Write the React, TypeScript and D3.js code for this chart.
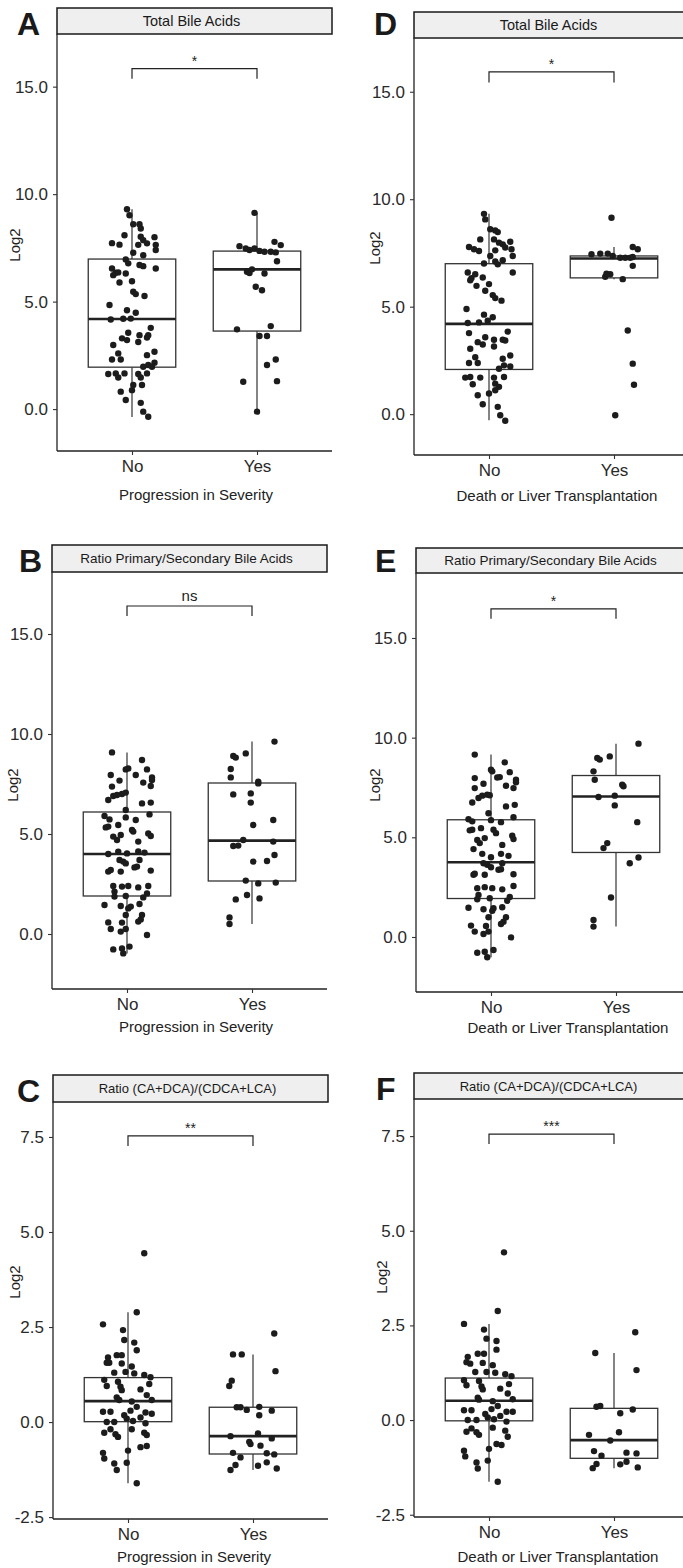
import React, { useEffect, useRef } from "react";
import { axisBottom, axisLeft, scaleLinear, select } from "d3";

const FONT = "'Liberation Sans', Arial, Helvetica, sans-serif";

// categories / labels
const groups = ["No", "Yes"];
const panelLetters = ["A", "D", "B", "E", "C", "F"];
const stripTitles = [
  "Total Bile Acids",
  "Total Bile Acids",
  "Ratio Primary/Secondary Bile Acids",
  "Ratio Primary/Secondary Bile Acids",
  "Ratio (CA+DCA)/(CDCA+LCA)",
  "Ratio (CA+DCA)/(CDCA+LCA)"
];
const xTitles = [
  "Progression in Severity",
  "Death or Liver Transplantation",
  "Progression in Severity",
  "Death or Liver Transplantation",
  "Progression in Severity",
  "Death or Liver Transplantation"
];
const sigLabels = ["*", "*", "ns", "*", "**", "***"];
// [bracket level, tip level]
const brackets = [
  [15.84, 15.37],
  [15.92, 15.43],
  [16.4, 15.9],
  [16.46, 15.96],
  [7.53, 7.26],
  [7.55, 7.29]
];
const ticksBA = [0, 5, 10, 15];
const ticksRatio = [-2.5, 0, 2.5, 5, 7.5];

// box stats: [lower whisker, q1, median, q3, upper whisker]
const aNoBox = [-0.37, 1.95, 4.19, 6.98, 9.3];
const aYesBox = [-0.12, 3.63, 6.5, 7.35, 9.13];
const dNoBox = [-0.28, 2.08, 4.2, 7.0, 9.32];
const dYesBox = [6.28, 6.34, 7.24, 7.36, 7.78];
const bNoBox = [-0.97, 1.9, 4.0, 6.1, 9.08];
const bYesBox = [0.5, 2.65, 4.67, 7.55, 9.62];
const eNoBox = [-1.02, 1.93, 3.75, 5.88, 9.15];
const eYesBox = [0.52, 4.24, 7.05, 8.1, 9.7];
const cNoBox = [-1.61, 0.01, 0.55, 1.17, 2.89];
const cYesBox = [-1.26, -0.84, -0.37, 0.39, 1.78];
const fNoBox = [-1.63, -0.02, 0.51, 1.11, 2.54];
const fYesBox = [-1.27, -1.01, -0.53, 0.31, 1.77];

// points: [log2 value, jitter (category units)]
const aNo = [[9.3,-0.04],[9.02,-0.02],[8.6,0.01],[8.6,0.06],[8.4,0.07],[8.09,-0.06],[8.02,0.07],[8.0,0.18],[7.86,0.09],[7.71,0.12],[7.64,0.05],[7.64,0.19],[7.4,0.19],[7.72,-0.16],[7.65,-0.1],[7.27,0.01],[7.16,0.09],[6.96,-0.05],[6.78,-0.03],[6.7,0.06],[6.65,0.09],[6.54,0.19],[6.54,-0.16],[6.34,-0.13],[6.23,-0.15],[6.36,-0.11],[6.31,-0.05],[5.89,-0.1],[5.95,0.0],[5.46,0.01],[5.35,0.03],[5.26,0.1],[4.84,-0.18],[4.6,-0.04],[4.48,0.03],[4.17,-0.17],[4.2,-0.07],[4.21,-0.01],[3.78,0.15],[3.55,-0.03],[3.44,0.06],[3.44,0.13],[3.33,0.12],[3.29,-0.08],[3.21,-0.04],[3.12,0.05],[2.98,-0.15],[2.67,0.18],[2.51,0.12],[2.59,-0.11],[2.31,-0.16],[2.31,-0.09],[2.16,0.18],[2.05,0.13],[1.97,0.09],[1.97,0.16],[1.63,-0.19],[1.66,-0.13],[1.47,-0.11],[1.66,-0.06],[1.63,0.05],[1.47,0.07],[1.66,0.12],[1.12,0.01],[0.88,0.0],[1.12,0.08],[0.81,-0.09],[0.42,-0.05],[0.29,0.07],[-0.12,0.09],[-0.36,0.13]];
const aYes = [[9.13,-0.02],[7.78,0.14],[7.63,0.19],[7.58,-0.14],[7.47,-0.09],[7.4,-0.06],[7.47,-0.02],[7.36,0.02],[7.32,0.06],[7.32,0.11],[7.29,0.15],[6.88,0.16],[6.39,-0.08],[6.33,-0.06],[6.5,-0.04],[6.31,0.06],[5.69,-0.01],[5.53,0.04],[3.71,-0.16],[3.86,0.11],[3.4,0.02],[3.4,0.08],[2.31,0.15],[2.05,0.08],[1.27,-0.11],[1.3,0.16],[-0.12,0.0]];
const dNo = [[9.32,-0.04],[9.06,-0.03],[8.6,0.01],[8.55,0.05],[8.47,0.07],[8.13,-0.07],[8.13,0.04],[7.98,0.08],[8.02,0.17],[7.9,0.11],[7.75,0.13],[7.67,0.18],[7.78,-0.16],[7.67,-0.12],[7.59,-0.08],[7.36,0.01],[7.62,0.05],[7.36,0.19],[7.01,-0.04],[7.1,0.05],[6.97,0.07],[7.16,0.11],[6.59,0.19],[6.59,-0.17],[6.33,-0.14],[6.51,-0.11],[6.23,-0.15],[6.36,-0.05],[5.97,-0.1],[6.05,0.0],[5.74,-0.03],[5.54,0.03],[5.4,0.05],[5.28,0.1],[4.89,-0.18],[4.63,-0.04],[4.51,0.03],[4.24,-0.17],[4.27,-0.08],[4.35,-0.01],[3.84,0.15],[3.77,-0.16],[3.58,-0.03],[3.46,0.04],[3.46,0.11],[3.43,0.13],[3.35,-0.09],[3.24,-0.05],[3.15,0.04],[3.04,-0.15],[2.65,-0.11],[2.38,-0.16],[2.38,-0.09],[2.58,0.11],[2.73,0.17],[2.11,0.08],[2.27,0.12],[2.22,0.17],[1.7,-0.19],[1.73,-0.15],[1.39,-0.13],[1.7,-0.07],[1.7,0.04],[1.42,0.05],[1.73,0.12],[0.96,0.0],[1.27,0.08],[1.11,0.05],[0.88,-0.09],[0.46,-0.05],[0.34,0.07],[-0.05,0.09],[-0.31,0.13]];
const dYes = [[9.14,-0.02],[7.78,0.15],[7.67,0.19],[7.47,-0.11],[7.47,-0.05],[7.36,-0.01],[7.28,0.05],[7.28,0.09],[7.28,0.13],[7.44,-0.18],[7.31,0.15],[6.9,0.15],[6.39,-0.07],[6.51,-0.03],[6.54,-0.06],[6.28,0.07],[3.89,0.11],[2.35,0.15],[1.37,0.16],[-0.05,0.01]];
const bNo = [[9.08,-0.12],[8.7,0.12],[8.23,-0.01],[8.28,0.01],[8.23,0.16],[7.95,0.07],[7.95,-0.13],[7.83,0.2],[7.7,0.2],[7.67,-0.06],[7.57,0.13],[7.4,0.19],[7.37,-0.12],[6.9,-0.11],[7.0,-0.04],[7.07,-0.01],[6.95,-0.08],[6.7,-0.15],[6.53,0.12],[6.57,0.19],[6.2,-0.01],[5.9,-0.18],[5.73,-0.14],[5.37,-0.15],[5.98,0.18],[5.83,-0.01],[5.7,0.07],[5.45,-0.07],[5.33,-0.17],[5.2,0.04],[5.12,0.05],[5.03,0.17],[4.9,0.19],[4.87,-0.11],[4.7,-0.08],[4.95,-0.05],[4.62,0.09],[4.0,-0.15],[4.12,-0.07],[4.03,0.0],[4.13,0.09],[4.07,0.14],[3.7,-0.06],[3.62,-0.03],[3.53,-0.01],[3.7,0.1],[3.37,0.08],[3.33,0.06],[3.12,-0.15],[3.2,-0.13],[3.12,-0.05],[3.17,0.19],[2.4,-0.11],[2.37,-0.04],[2.4,0.01],[2.33,0.09],[2.4,0.17],[2.12,-0.1],[1.87,-0.1],[1.9,-0.01],[2.03,0.16],[1.83,0.13],[1.45,-0.18],[1.4,-0.05],[1.28,0.01],[1.37,0.03],[1.5,0.1],[0.95,-0.01],[0.95,0.12],[0.73,0.11],[0.62,0.09],[0.58,-0.15],[0.57,-0.04],[0.25,-0.13],[0.25,-0.01],[0.12,-0.05],[-0.05,0.16],[-0.77,-0.11],[-0.72,-0.04],[-0.63,0.02],[-0.97,-0.03]];
const bYes = [[9.62,0.18],[9.03,-0.05],[8.9,-0.15],[8.82,-0.13],[8.25,-0.17],[7.83,-0.17],[7.62,0.05],[7.53,0.05],[6.98,-0.15],[7.03,-0.01],[6.57,-0.01],[5.7,0.17],[5.45,0.01],[4.7,-0.07],[4.4,-0.15],[4.42,-0.11],[4.62,0.17],[3.62,0.01],[3.65,0.12],[3.95,0.18],[2.67,-0.05],[2.53,0.05],[2.57,0.19],[1.95,-0.04],[1.73,-0.13],[1.78,0.06],[0.83,-0.18],[0.5,-0.18]];
const eNo = [[9.15,-0.13],[8.76,0.11],[8.39,0.0],[8.31,0.01],[8.02,0.07],[8.27,0.15],[7.89,0.2],[7.76,0.2],[7.97,-0.13],[7.69,-0.06],[8.0,0.05],[7.59,0.12],[7.47,0.18],[7.47,-0.13],[6.97,-0.1],[7.09,-0.07],[7.14,-0.03],[7.11,-0.01],[6.75,-0.15],[6.55,0.12],[6.63,0.19],[6.21,-0.02],[5.91,-0.18],[5.8,-0.15],[5.38,-0.15],[5.35,-0.17],[5.86,0.0],[5.76,0.08],[6.01,0.18],[5.46,-0.08],[5.38,0.02],[5.21,0.04],[5.08,0.17],[4.91,0.18],[4.87,-0.11],[4.71,-0.09],[4.96,-0.05],[4.62,0.09],[4.41,-0.14],[4.17,-0.07],[4.0,0.0],[4.17,0.08],[4.07,0.14],[3.7,-0.06],[3.62,-0.03],[3.5,0.0],[3.7,0.09],[3.4,0.08],[3.37,0.06],[3.12,-0.14],[3.17,-0.13],[3.12,-0.05],[3.15,0.18],[2.45,-0.11],[2.5,-0.05],[2.45,0.01],[2.39,0.09],[2.56,0.18],[2.11,-0.1],[1.89,-0.11],[1.94,-0.01],[2.01,0.15],[1.82,0.13],[1.47,-0.18],[1.39,-0.06],[1.31,0.01],[1.44,0.02],[1.49,0.09],[0.99,-0.02],[0.99,0.12],[0.77,0.1],[0.65,0.08],[0.57,-0.16],[0.55,-0.04],[0.27,-0.13],[0.15,-0.06],[0.27,-0.02],[-0.02,0.16],[-0.79,-0.11],[-0.74,-0.05],[-0.65,0.02],[-1.02,-0.03]];
const eYes = [[9.7,0.18],[9.06,-0.05],[8.98,-0.15],[8.9,-0.13],[8.31,-0.18],[7.89,-0.17],[7.64,0.05],[7.56,0.06],[7.02,-0.14],[7.09,-0.01],[6.6,-0.01],[5.76,0.17],[4.71,-0.07],[4.46,-0.1],[3.99,0.18],[3.7,0.11],[1.98,-0.04],[0.85,-0.18],[0.52,-0.18]];
const cNo = [[4.44,0.13],[2.89,0.07],[2.57,-0.2],[2.42,-0.04],[2.09,0.05],[2.16,-0.03],[1.89,0.07],[1.7,-0.16],[1.56,-0.17],[1.76,-0.09],[1.76,-0.05],[1.54,-0.05],[1.56,-0.15],[1.46,0.03],[1.3,-0.11],[1.32,-0.02],[1.28,0.05],[1.24,0.13],[1.18,0.18],[1.11,-0.19],[0.95,-0.17],[1.06,-0.08],[0.93,-0.06],[0.84,-0.05],[0.86,0.1],[1.0,0.17],[0.58,0.19],[0.71,0.15],[0.65,-0.09],[0.58,-0.07],[0.54,0.03],[0.4,0.07],[0.25,0.14],[0.22,0.19],[0.27,-0.2],[0.27,-0.14],[0.18,-0.03],[0.09,-0.01],[0.3,0.02],[0.0,-0.17],[0.0,-0.11],[0.03,0.04],[-0.03,0.14],[0.12,0.1],[-0.28,-0.19],[-0.19,-0.14],[-0.39,-0.08],[-0.32,-0.1],[-0.19,0.03],[-0.28,0.13],[-0.34,0.15],[-0.75,0.0],[-0.66,0.1],[-0.63,0.15],[-0.81,-0.2],[-0.96,-0.19],[-1.09,-0.11],[-1.26,-0.09],[-1.07,-0.01],[-1.61,0.07]];
const cYes = [[2.33,0.17],[1.78,-0.16],[1.78,-0.09],[1.34,0.18],[1.09,-0.17],[0.95,-0.19],[0.39,-0.13],[0.39,-0.1],[0.32,-0.05],[0.4,0.05],[0.3,0.15],[0.18,0.05],[-0.37,-0.18],[-0.3,0.04],[-0.43,0.15],[-0.52,-0.03],[-0.58,-0.02],[-0.62,0.06],[-0.81,-0.16],[-0.93,-0.1],[-0.82,0.11],[-0.85,0.17],[-1.13,-0.14],[-1.26,-0.18],[-1.06,0.11],[-1.15,0.04],[-1.22,0.19]];
const fNo = [[4.43,0.12],[2.88,0.07],[2.54,-0.2],[2.39,-0.04],[2.15,-0.02],[2.09,0.06],[1.86,0.06],[1.67,-0.17],[1.53,-0.18],[1.75,-0.09],[1.75,-0.04],[1.51,-0.05],[1.49,-0.15],[1.45,0.03],[1.27,-0.11],[1.27,-0.02],[1.25,0.05],[1.21,0.13],[1.16,0.18],[1.05,-0.2],[0.92,-0.18],[1.03,-0.08],[0.89,-0.06],[0.81,-0.05],[0.83,0.09],[0.95,0.16],[0.55,0.19],[0.7,0.15],[0.59,-0.09],[0.54,-0.08],[0.5,0.03],[0.37,0.07],[0.22,0.14],[0.22,0.19],[0.26,-0.2],[0.26,-0.14],[0.16,-0.03],[0.07,-0.01],[0.29,0.02],[0.0,-0.17],[0.0,-0.1],[0.02,0.04],[-0.04,0.14],[0.11,0.09],[-0.31,-0.18],[-0.22,-0.14],[-0.39,-0.08],[-0.32,-0.1],[-0.2,0.03],[-0.28,0.13],[-0.44,0.15],[-0.76,0.0],[-0.66,0.1],[-0.63,0.06],[-0.81,-0.2],[-0.96,-0.19],[-1.12,-0.1],[-1.28,-0.09],[-1.07,-0.01],[-1.63,0.07]];
const fYes = [[2.32,0.17],[1.77,-0.15],[1.32,0.18],[0.35,-0.14],[0.37,-0.11],[0.18,0.05],[0.28,0.15],[-0.39,-0.2],[-0.32,0.04],[-0.54,-0.03],[-0.82,-0.16],[-0.94,-0.1],[-0.86,0.1],[-0.88,0.18],[-1.27,-0.17],[-1.16,-0.14],[-1.17,0.05],[-1.1,0.1],[-1.25,0.19]];

const panelData = [
  { groups: [aNo, aYes], boxes: [aNoBox, aYesBox], ticks: ticksBA },
  { groups: [dNo, dYes], boxes: [dNoBox, dYesBox], ticks: ticksBA },
  { groups: [bNo, bYes], boxes: [bNoBox, bYesBox], ticks: ticksBA },
  { groups: [eNo, eYes], boxes: [eNoBox, eYesBox], ticks: ticksBA },
  { groups: [cNo, cYes], boxes: [cNoBox, cYesBox], ticks: ticksRatio },
  { groups: [fNo, fYes], boxes: [fNoBox, fYesBox], ticks: ticksRatio }
];

// layout for each panel (pixels)
const PANEL_W = 275;
const layout = [
  { left: 57, stripTop: 8, top: 34, bottom: 451, yDomain: [-1.95, 17.45], stripFont: 14.5, letterX: 17, letterY: 35, logX: 15, logY: 245, titleX: 196, titleY: 500 },
  { left: 414, stripTop: 12, top: 38, bottom: 455, yDomain: [-1.9, 17.5], stripFont: 14.5, letterX: 374, letterY: 35, logX: 375, logY: 248, titleX: 557, titleY: 501 },
  { left: 52, stripTop: 545, top: 572, bottom: 989, yDomain: [-2.75, 18.1], stripFont: 13.5, letterX: 19, letterY: 572, logX: 13, logY: 785, titleX: 196, titleY: 1032 },
  { left: 416, stripTop: 548, top: 573, bottom: 992, yDomain: [-2.76, 18.26], stripFont: 13.5, letterX: 375, letterY: 572, logX: 375, logY: 785, titleX: 568, titleY: 1033 },
  { left: 53, stripTop: 1075, top: 1102, bottom: 1519, yDomain: [-2.55, 8.42], stripFont: 13, letterX: 17, letterY: 1102, logX: 15, logY: 1282, titleX: 194, titleY: 1562 },
  { left: 414, stripTop: 1073, top: 1099, bottom: 1517, yDomain: [-2.56, 8.48], stripFont: 13, letterX: 376, letterY: 1100, logX: 382, logY: 1277, titleX: 558, titleY: 1562 }
];

function Panel({ idx }: { idx: number }) {
  const L = layout[idx];
  const D = panelData[idx];
  const yAxisRef = useRef<SVGGElement>(null);
  const xAxisRef = useRef<SVGGElement>(null);

  const x = scaleLinear().domain([0.4, 2.6]).range([L.left, L.left + PANEL_W]);
  const y = scaleLinear().domain(L.yDomain).range([L.bottom, L.top]);
  const halfBox = 0.35;

  useEffect(() => {
    const yAxis = axisLeft(y)
      .tickValues(D.ticks)
      .tickFormat((d: any) => (+d).toFixed(1))
      .tickSize(4)
      .tickPadding(5);
    const gy = select(yAxisRef.current!).call(yAxis as any);
    gy.select(".domain").remove();
    gy.attr("font-family", FONT).attr("font-size", 17);
    gy.selectAll(".tick text").attr("fill", "#2a2a2a");
    gy.selectAll(".tick line").attr("stroke", "#333").attr("stroke-width", 1.1);

    const xAxis = axisBottom(x)
      .tickValues([1, 2])
      .tickFormat((_: any, i: number) => groups[i])
      .tickSize(4)
      .tickPadding(5);
    const gx = select(xAxisRef.current!).call(xAxis as any);
    gx.select(".domain").remove();
    gx.attr("font-family", FONT).attr("font-size", 17);
    gx.selectAll(".tick text").attr("fill", "#2a2a2a");
    gx.selectAll(".tick line").attr("stroke", "#333").attr("stroke-width", 1.1);
  }, [idx]);

  const [lvl, tip] = brackets[idx];
  const bx1 = x(1), bx2 = x(2);

  return (
    <g>
      <text x={L.letterX} y={L.letterY} fontFamily={FONT} fontWeight="bold" fontSize={32} fill="#1a1a1a">
        {panelLetters[idx]}
      </text>
      <rect x={L.left} y={L.stripTop} width={PANEL_W} height={L.top - L.stripTop}
        fill="#efefef" stroke="#1a1a1a" strokeWidth={1.5} />
      <text x={L.left + PANEL_W / 2 - 3} y={(L.stripTop + L.top) / 2} dy="0.35em"
        textAnchor="middle" fontFamily={FONT} fontSize={L.stripFont} fill="#1a1a1a">
        {stripTitles[idx]}
      </text>

      <line x1={L.left} x2={L.left} y1={L.top} y2={L.bottom} stroke="#222" strokeWidth={1.3} />
      <line x1={L.left} x2={L.left + PANEL_W} y1={L.bottom} y2={L.bottom} stroke="#222" strokeWidth={1.3} />
      <g ref={yAxisRef} transform={`translate(${L.left},0)`} />
      <g ref={xAxisRef} transform={`translate(0,${L.bottom})`} />

      <text transform={`translate(${L.logX},${L.logY}) rotate(-90)`} dy="0.35em" textAnchor="middle"
        fontFamily={FONT} fontSize={15} fill="#222">Log2</text>
      <text x={L.titleX} y={L.titleY} textAnchor="middle" fontFamily={FONT} fontSize={15} fill="#222">
        {xTitles[idx]}
      </text>

      {D.boxes.map((b, g) => {
        const cx = x(g + 1);
        const [lo, q1, med, q3, hi] = b;
        return (
          <g key={"box" + g}>
            <line x1={cx} x2={cx} y1={y(q3)} y2={y(hi)} stroke="#333" strokeWidth={1.2} />
            <line x1={cx} x2={cx} y1={y(q1)} y2={y(lo)} stroke="#333" strokeWidth={1.2} />
            <rect x={x(g + 1 - halfBox)} y={y(q3)} width={x(g + 1 + halfBox) - x(g + 1 - halfBox)}
              height={y(q1) - y(q3)} fill="white" stroke="#333" strokeWidth={1.3} />
            <line x1={x(g + 1 - halfBox)} x2={x(g + 1 + halfBox)} y1={y(med)} y2={y(med)}
              stroke="#222" strokeWidth={2.6} />
          </g>
        );
      })}

      {D.groups.map((pts, g) =>
        pts.map((p, k) => (
          <circle key={g + "-" + k} cx={x(g + 1 + p[1])} cy={y(p[0])} r={3.2} fill="#1c1c1c" />
        ))
      )}

      <path d={`M${bx1},${y(tip)}V${y(lvl)}H${bx2}V${y(tip)}`} fill="none" stroke="#222" strokeWidth={1.2} />
      <text x={(bx1 + bx2) / 2} y={y(lvl) - (sigLabels[idx] === "ns" ? 5 : 3)} textAnchor="middle"
        fontFamily={FONT} fontSize={sigLabels[idx] === "ns" ? 15 : 14} fill="#222">
        {sigLabels[idx]}
      </text>
    </g>
  );
}

export default function App() {
  return (
    <svg width={683} height={1568} style={{ position: "absolute", left: 0, top: 0, background: "white" }}>
      <rect x={0} y={0} width={683} height={1568} fill="white" />
      {layout.map((_, i) => (
        <Panel key={i} idx={i} />
      ))}
    </svg>
  );
}
